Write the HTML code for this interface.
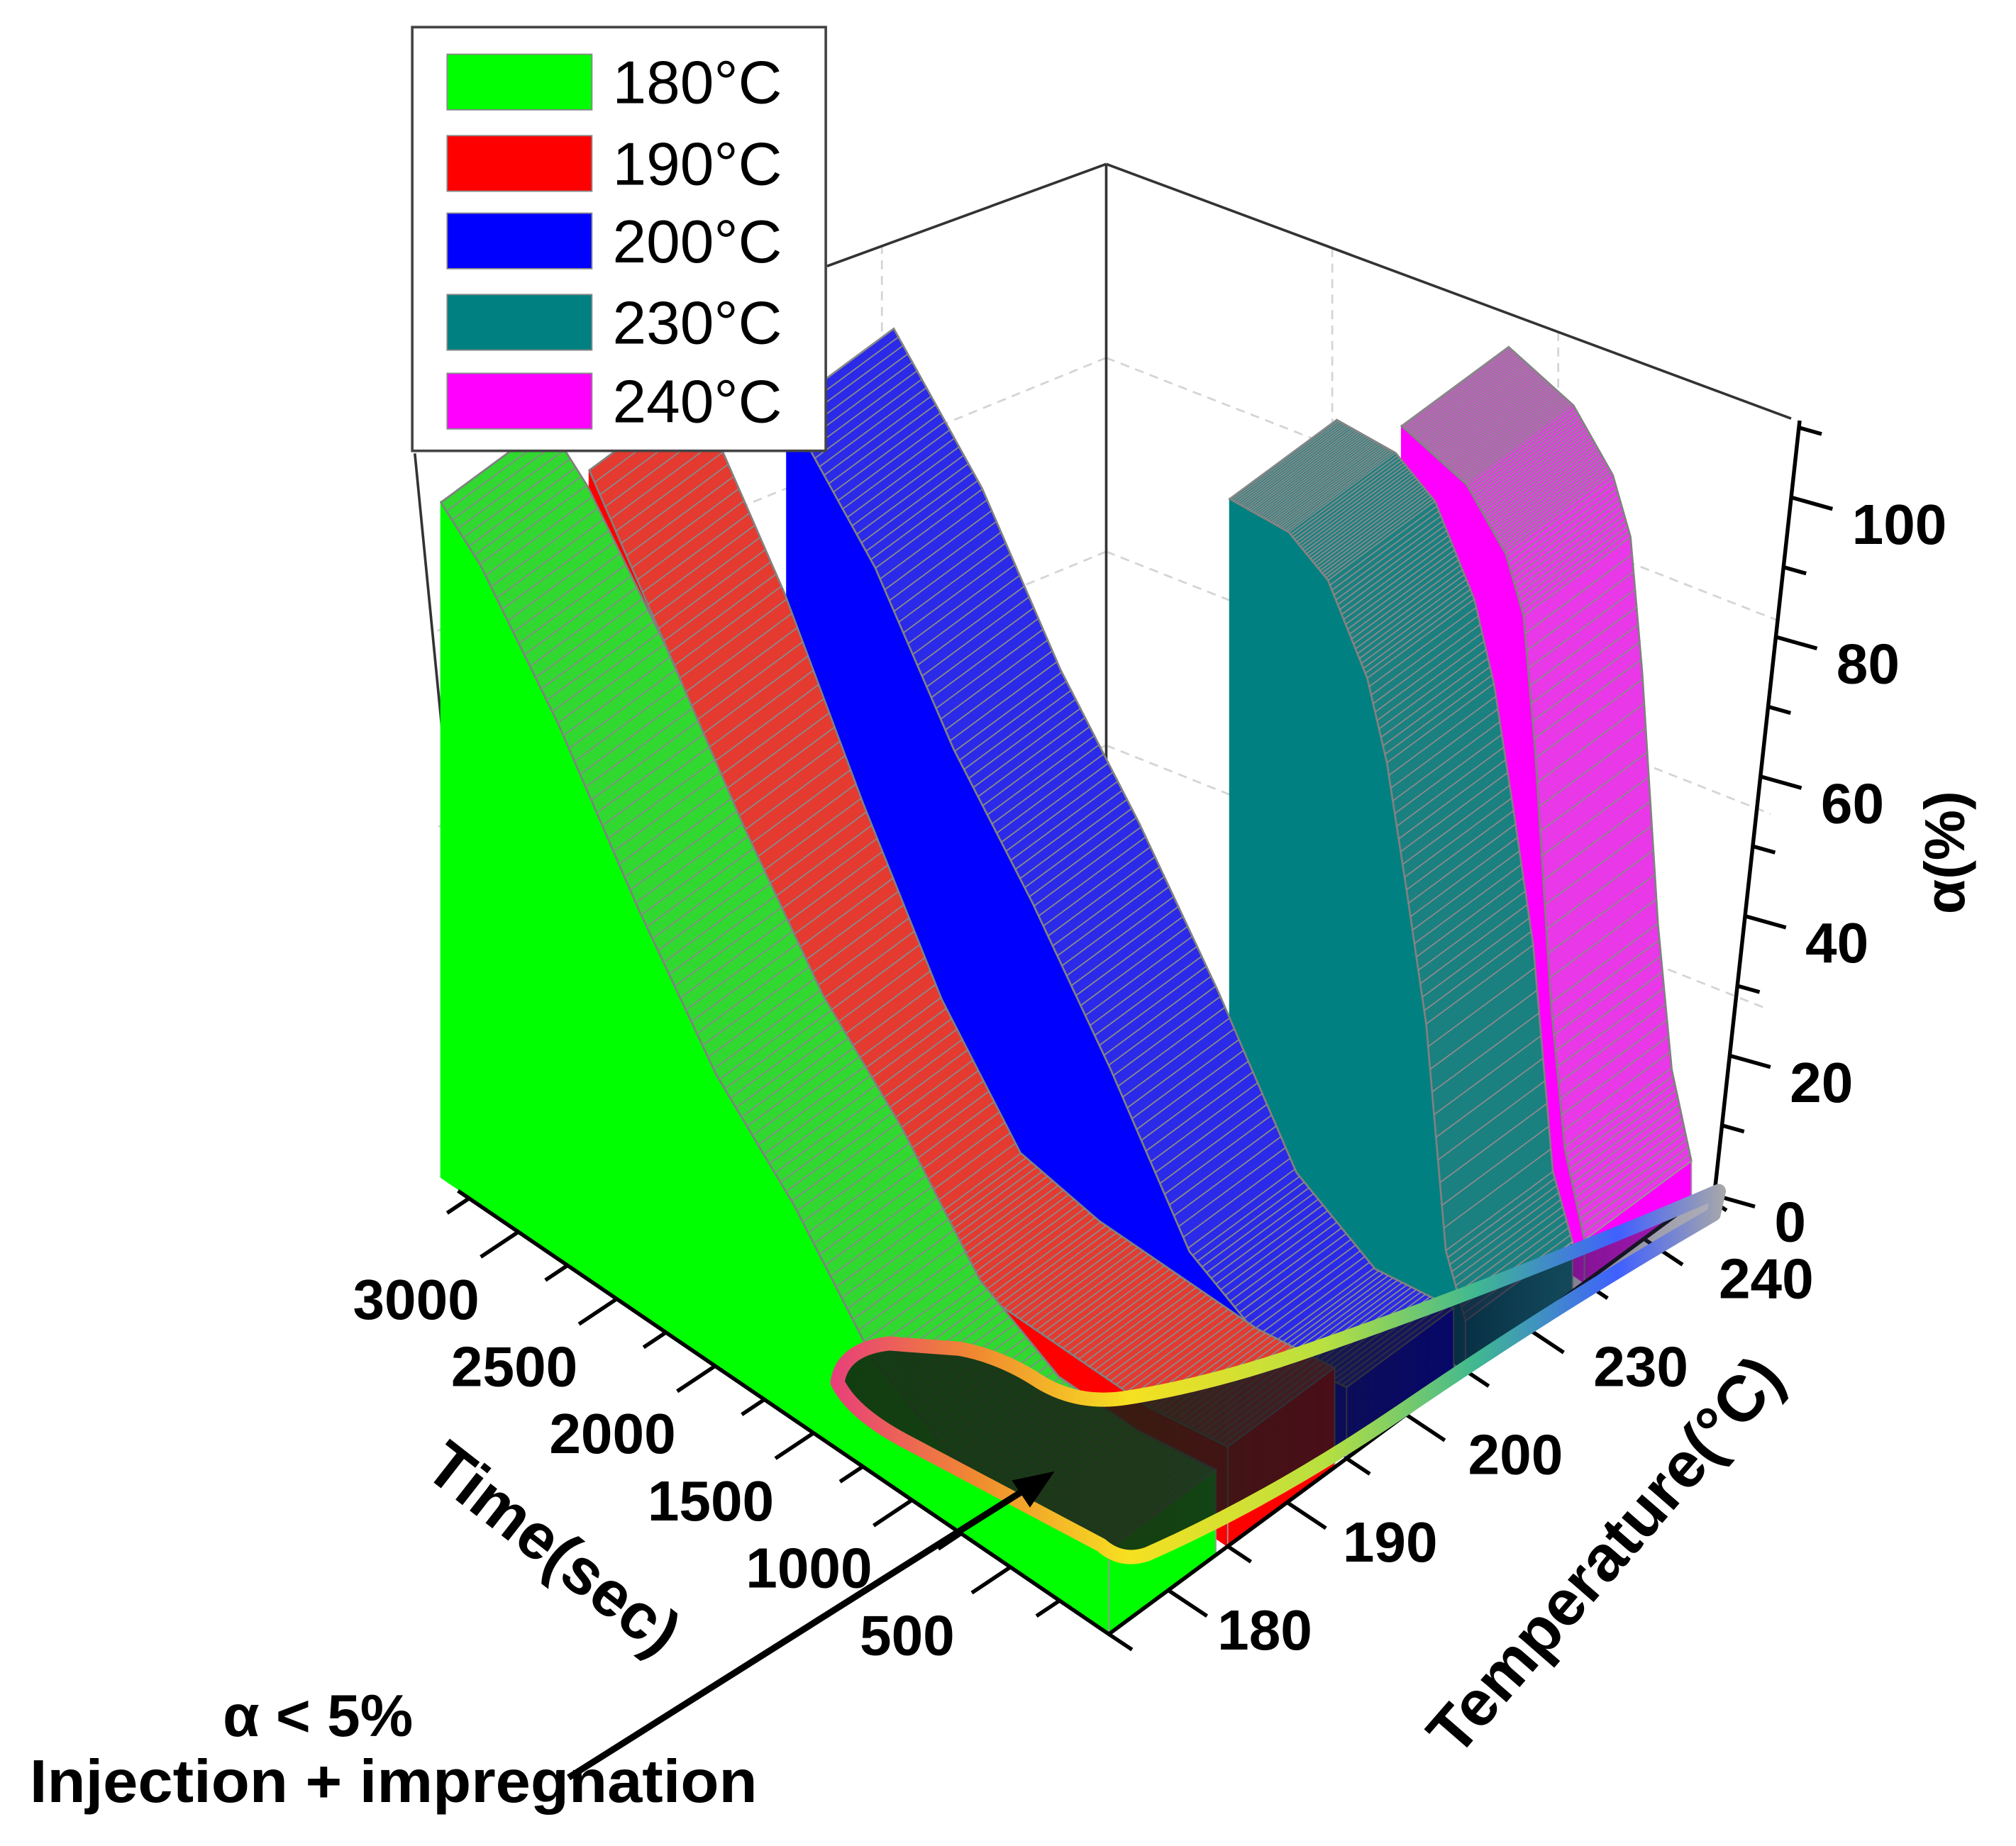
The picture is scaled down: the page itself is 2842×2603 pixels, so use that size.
<!DOCTYPE html>
<html><head><meta charset="utf-8"><style>
html,body{margin:0;padding:0;background:#fff;}
svg{display:block;}
text{font-family:"Liberation Sans",Arial,sans-serif;}
</style></head>
<body>
<svg id="chart" xmlns="http://www.w3.org/2000/svg" width="2842" height="2603" viewBox="0 0 1560 1429" preserveAspectRatio="none">
<defs>
<linearGradient id="loopStroke" gradientUnits="userSpaceOnUse" x1="645" y1="0" x2="1335" y2="0">
<stop offset="0" stop-color="#e8407a"/><stop offset="0.16" stop-color="#f08a30"/><stop offset="0.33" stop-color="#f6e020"/><stop offset="0.55" stop-color="#b8e040"/><stop offset="0.72" stop-color="#40b890"/><stop offset="0.88" stop-color="#4060ff"/><stop offset="1" stop-color="#a8a8a8"/>
</linearGradient>
<linearGradient id="loopFill" gradientUnits="userSpaceOnUse" x1="650" y1="0" x2="1330" y2="0">
<stop offset="0" stop-color="rgb(18,52,18)" stop-opacity="0.95"/><stop offset="0.35" stop-color="rgb(25,30,20)" stop-opacity="0.85"/><stop offset="0.7" stop-color="rgb(10,10,40)" stop-opacity="0.7"/><stop offset="1" stop-color="rgb(60,60,90)" stop-opacity="0.4"/>
</linearGradient>
</defs>
<g id="grid" stroke="#d4d4d4" stroke-width="1.5" stroke-dasharray="7 5" fill="none"></g>
<g id="frame" stroke="#333" stroke-width="2" fill="none">
<line x1="856" y1="127" x2="856" y2="720"/>
<line x1="856" y1="127" x2="640" y2="206"/>
<line x1="856" y1="127" x2="1386" y2="324"/>
<line x1="321" y1="351" x2="378" y2="930"/>
</g>
<g id="ribbons"></g>
<g id="floorAxes"></g>
<path d="M648 1070 Q652 1044 688 1040 L742 1044 Q775 1050 805 1070 Q835 1088 872 1082 Q935 1072 1005 1048 Q1160 995 1330 922 L1326 940 Q1205 1010 1085 1092 Q985 1160 888 1203 Q868 1210 852 1196 L705 1118 Q660 1095 648 1070 Z" fill="url(#loopFill)" stroke="url(#loopStroke)" stroke-width="11" stroke-linejoin="round"/>
<g id="legend">
<rect x="319" y="21" width="320" height="328" fill="#fff" stroke="#444" stroke-width="2"/>
</g>
<g>
<line x1="440" y1="1376" x2="795" y2="1152" stroke="#000" stroke-width="5"/>
<polygon points="816,1139 783,1146 797,1167" fill="#000"/>
<text x="246" y="1344" font-size="46" font-weight="bold" text-anchor="middle">α &lt; 5%</text>
<text x="23" y="1395" font-size="47" font-weight="bold" textLength="563" lengthAdjust="spacingAndGlyphs">Injection + impregnation</text>
</g>
<text x="0" y="0" font-size="50" font-weight="bold" text-anchor="middle" transform="translate(418,1212) rotate(38)">Time(sec)</text>
<text x="0" y="0" font-size="50" font-weight="bold" text-anchor="middle" transform="translate(1255,1215) rotate(-49)">Temperature(°C)</text>
<text x="0" y="0" font-size="44" font-weight="bold" text-anchor="middle" transform="translate(1520,660) rotate(-90)">α(%)</text>
</svg>
<script>
const temps = ['180°C','190°C','200°C','230°C','240°C'];
const tempTicks = ['180','190','200','230','240'];
const colors = ['#00ff00','#ff0000','#0000ff','#008080','#ff00ff'];
const topColors = ['#30d830','#e43a30','#2a2ae8','#1a8080','#e838e8'];
const times180 = [0,400,800,1200,1600,2000,2400,2800,3200,3400];
const alpha180 = [12,10,10,16,30,41,57,75,90,95];
const times190 = [0,400,800,1200,1600,2000,2400,2800,3250];
const alpha190 = [14,12,12,12,14,28,48,70,90];
const times200 = [0,400,800,1200,1600,2000,2400,2850];
const alpha200 = [10,8,14,32,48,62,80,94];
const times230 = [0,100,200,300,400,500,700,900,1200];
const alpha230 = [7,15,45,62,78,88,98,101,100];
const times240 = [0,100,170,250,310,400,600,930];
const alpha240 = [6,17,36,70,88,95,101,103];
const timeTicks = [500,1000,1500,2000,2500,3000];
const alphaTicks = [0,20,40,60,80,100];

const NS='http://www.w3.org/2000/svg';
const seriesT=[times180,times190,times200,times230,times240];
const seriesA=[alpha180,alpha190,alpha200,alpha230,alpha240];
function P(t,u,a){ return [858+92*u-0.152*t, 1265-68*u-0.104*t-5.5*a]; }
function alphaAxis(a){ return [1326+0.6*a, 925-5.4*a]; }
function pts(arr){ return arr.map(p=>p[0].toFixed(1)+','+p[1].toFixed(1)).join(' '); }
function mk(tag,attrs,parent){ const e=document.createElementNS(NS,tag); for(const k in attrs) e.setAttribute(k,attrs[k]); parent.appendChild(e); return e; }

const grid=document.getElementById('grid');
[0.25,0.5,0.75].forEach(f=>{
  mk('line',{x1:856,y1:127+600*f,x2:330+18*f,y2:340+600*f},grid);
  mk('line',{x1:856,y1:127+600*f,x2:1380-20*f,y2:330+600*f},grid);
});
[0.33,0.66].forEach(f=>{
  const x=856-(856-330)*f; mk('line',{x1:x,y1:127+(206-127)*f*2.4,x2:x,y2:900},grid);
  const x2=856+(1386-856)*f; mk('line',{x1:x2,y1:127+197*f,x2:x2,y2:950},grid);
});

const rib=document.getElementById('ribbons');
for(let i=4;i>=0;i--){
  const T=seriesT[i], A=seriesA[i], u0=i, u1=i+0.9;
  const g=mk('g',{},rib);
  
  
  const n=T.length, tmax=T[n-1];
  const face=[]; for(let k=0;k<n;k++) face.push(P(T[k],u0,A[k]));
  face.push(P(tmax,u0,0)); face.push(P(0,u0,0));
  const f=mk('polygon',{points:pts(face),fill:colors[i],stroke:colors[i],'stroke-width':1},g);
  
  
  const top=[]; for(let k=0;k<n;k++) top.push(P(T[k],u0,A[k]));
  for(let k=n-1;k>=0;k--) top.push(P(T[k],u1,A[k]));
  const s=mk('polygon',{points:pts(top),fill:topColors[i],stroke:'#808080','stroke-width':1.5},g);
  
  
  const step=tmax/120;
  let d='';
  for(let t=0;t<=tmax;t+=step){
    let k=0; while(k<n-2 && T[k+1]<t) k++;
    const fr=(t-T[k])/(T[k+1]-T[k]); const a=A[k]+(A[k+1]-A[k])*Math.max(0,Math.min(1,fr));
    const p=P(t,u0,a), q=P(t,u1,a);
    d+='M'+p[0].toFixed(1)+' '+p[1].toFixed(1)+'L'+q[0].toFixed(1)+' '+q[1].toFixed(1);
  }
  const h=mk('path',{d:d,stroke:'#8a8a8a','stroke-width':1,fill:'none'},g);
  
  
  const cap=[P(0,u0,0),P(0,u1,0),P(0,u1,A[0]),P(0,u0,A[0])];
  const c=mk('polygon',{points:pts(cap),fill:colors[i],stroke:'#999','stroke-width':1},g);
  
  
}

const fa=document.getElementById('floorAxes');
const o=P(0,0,0), endT=P(3300,0,0), endU=P(0,5,0);
const ta=mk('line',{x1:o[0],y1:o[1],x2:endT[0]-2,y2:endT[1],stroke:'#000','stroke-width':3},fa);
 
const ua=mk('line',{x1:o[0],y1:o[1],x2:endU[0],y2:endU[1],stroke:'#000','stroke-width':3},fa);
 
for(let t=250;t<=3250;t+=250){
  const p=P(t,0,0); const major=(t%500===0); const L=major?1:0.6;
  const tk=mk('line',{x1:p[0],y1:p[1],x2:p[0]-30*L,y2:p[1]+20*L,stroke:'#000','stroke-width':3},fa);
   
}
timeTicks.forEach(t=>{
  const p=P(t,0,0);
  const tx=mk('text',{x:p[0]-80,y:p[1]+68,'font-size':44,'font-weight':'bold','text-anchor':'middle'},fa);
  tx.textContent=String(t);
   
});
for(let j=0;j<=10;j++){
  const p=P(0,j*0.5,0); const major=(j%2===1); const L=major?1:0.6;
  const tk=mk('line',{x1:p[0],y1:p[1],x2:p[0]+30*L,y2:p[1]+20*L,stroke:'#000','stroke-width':3},fa);
   
}
tempTicks.forEach((lab,i)=>{
  const p=P(0,i+0.5,0);
  const tx=mk('text',{x:p[0]+38+i*5,y:p[1]+46,'font-size':44,'font-weight':'bold'},fa);
  tx.textContent=lab;
   
});
const a0=alphaAxis(0), a1=alphaAxis(111);
const aa=mk('line',{x1:a0[0],y1:a0[1]+5,x2:a1[0],y2:a1[1],stroke:'#000','stroke-width':3},fa);
 
for(let a=0;a<=110;a+=10){
  const p=alphaAxis(a); const major=(a%20===0); const L=major?1:0.55;
  const tk=mk('line',{x1:p[0],y1:p[1],x2:p[0]+32*L,y2:p[1]+9*L,stroke:'#000','stroke-width':3},fa);
   
}
alphaTicks.forEach(a=>{
  const p=alphaAxis(a);
  const tx=mk('text',{x:p[0]+47,y:p[1]+36,'font-size':44,'font-weight':'bold'},fa);
  tx.textContent=String(a);
   
});

const lg=document.getElementById('legend');
const swY=[42,105,165,228,289];
temps.forEach((lab,i)=>{
  const r=mk('rect',{x:346,y:swY[i],width:112,height:43,fill:colors[i],stroke:'#888','stroke-width':1},lg);
   
  const t=mk('text',{x:474,y:swY[i]+38,'font-size':47},lg);
  t.textContent=lab;
   
});
</script>
</body></html>
